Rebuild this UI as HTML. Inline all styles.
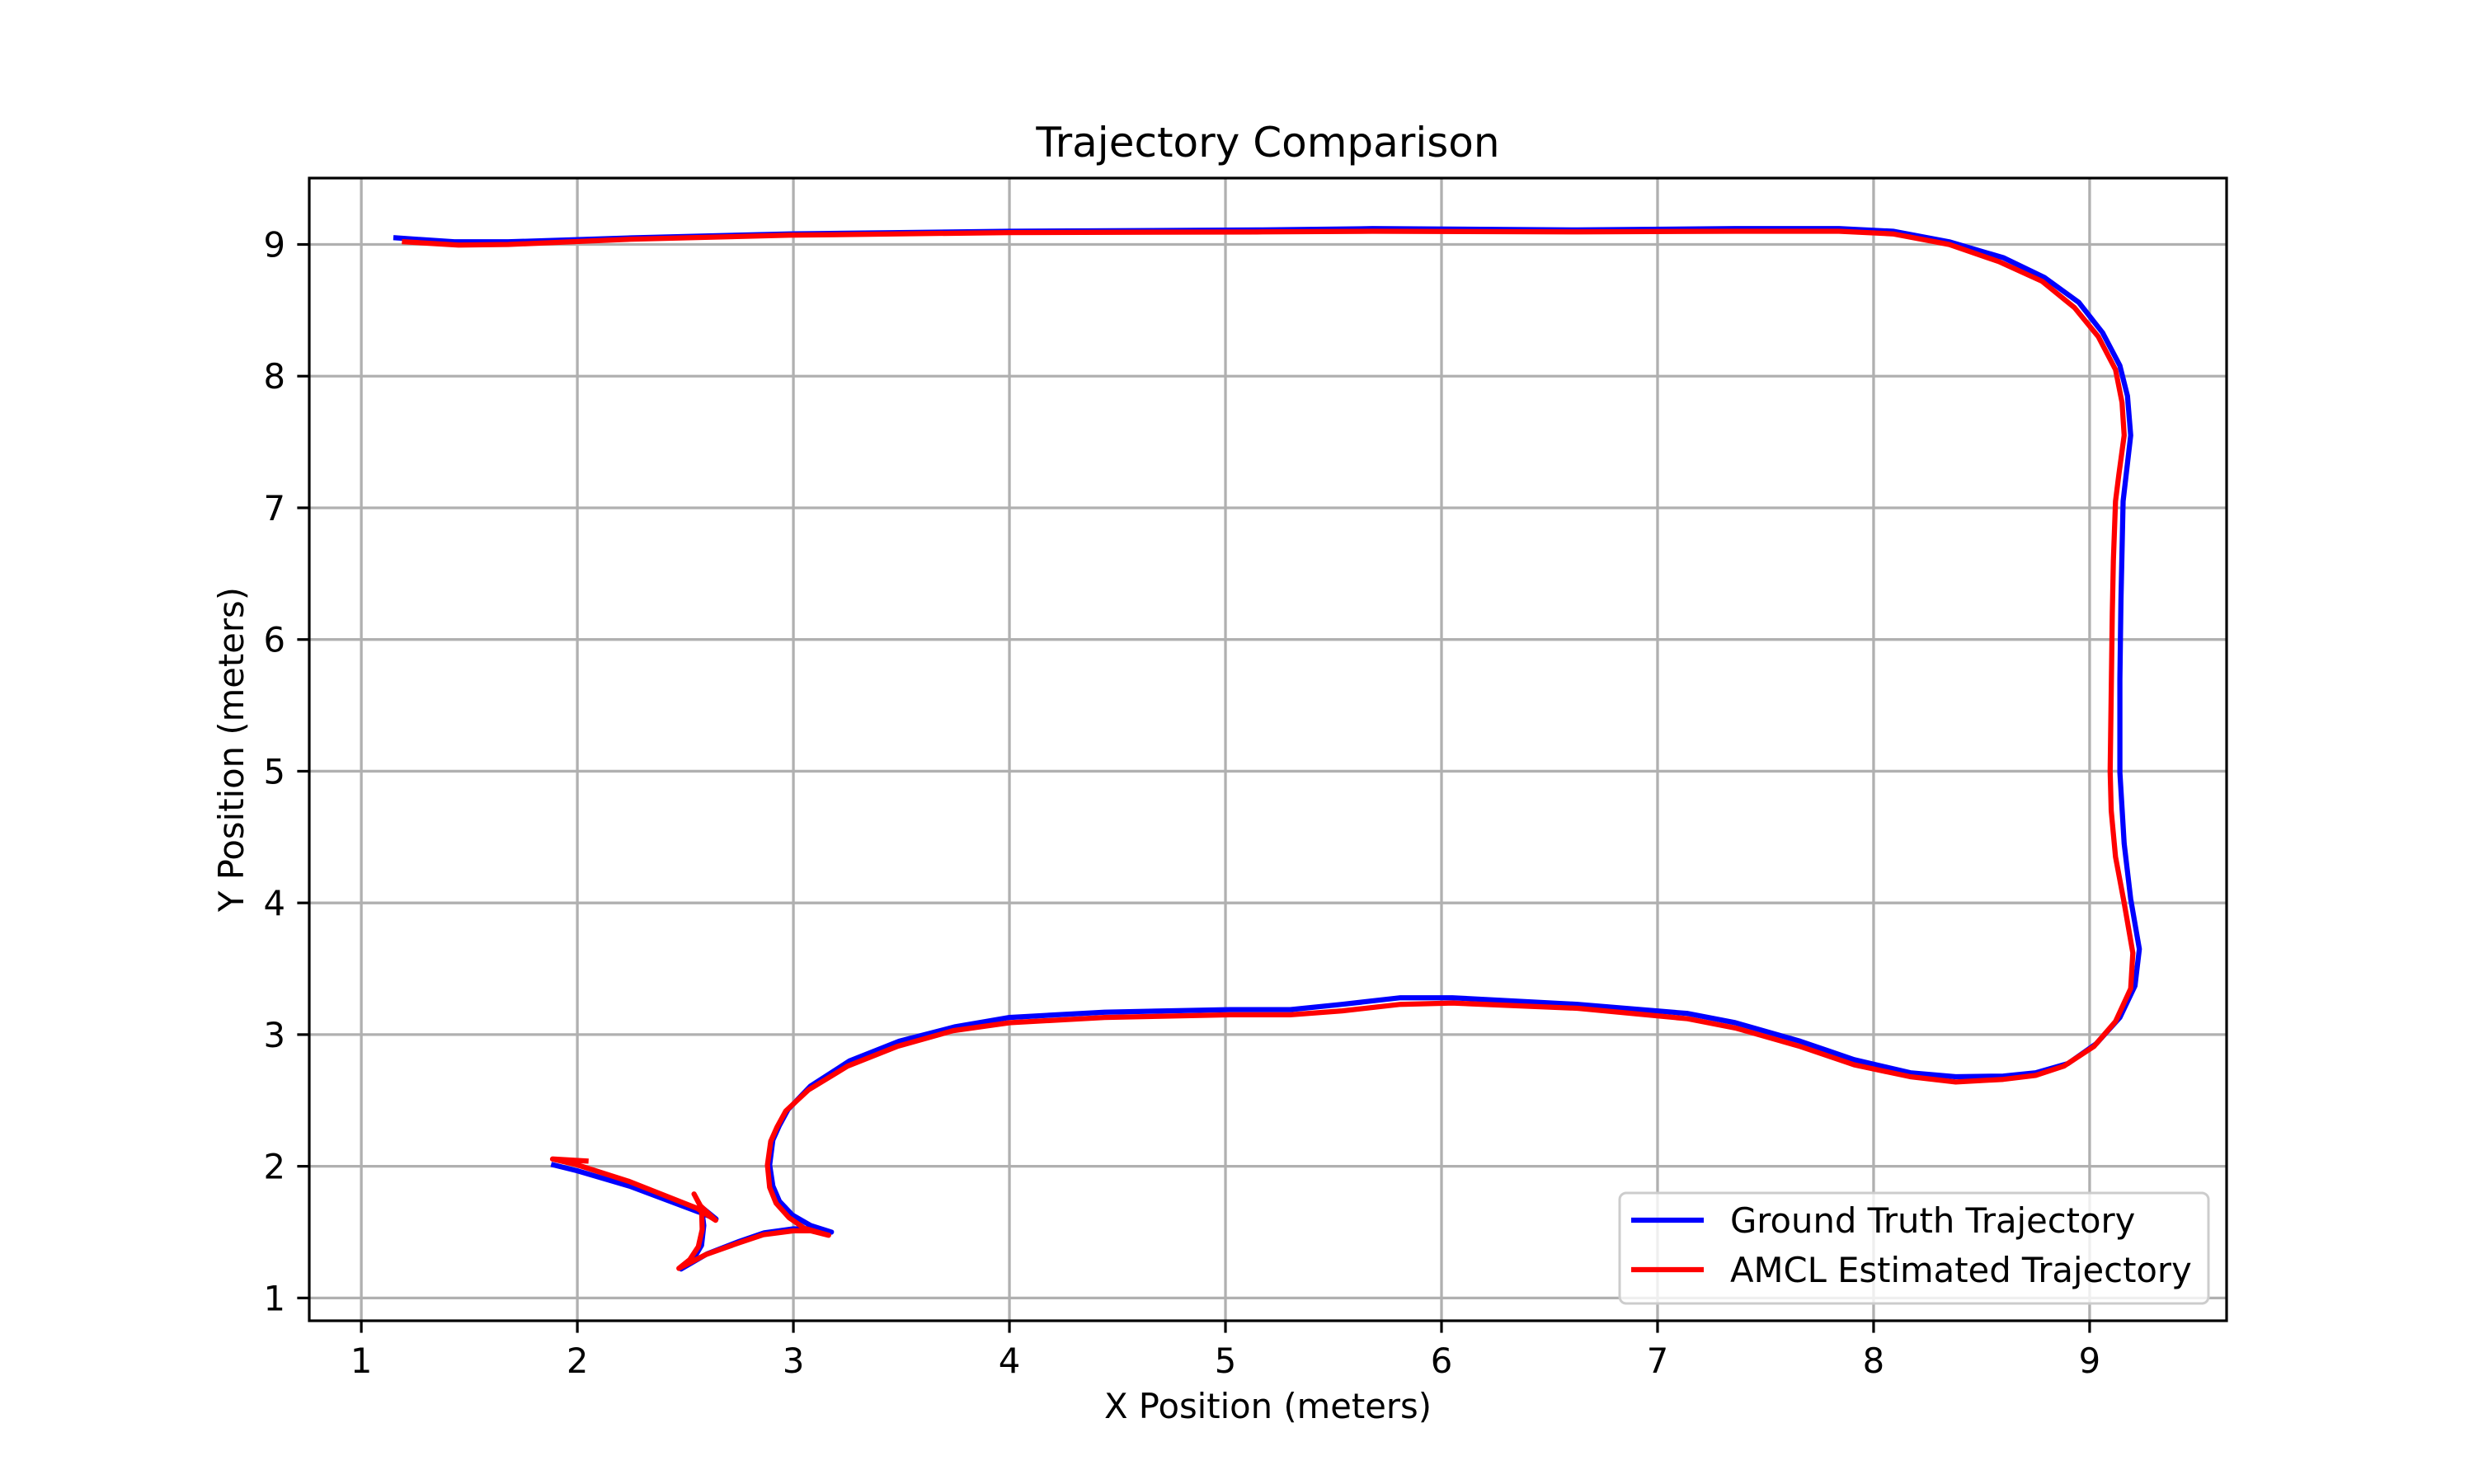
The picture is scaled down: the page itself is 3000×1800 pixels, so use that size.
<!DOCTYPE html>
<html><head><meta charset="utf-8">
<style>
html,body{margin:0;padding:0;background:#fff;}
svg{display:block;font-family:"DejaVu Sans","Liberation Sans",sans-serif;}
</style></head>
<body>
<svg id="chart" width="3000" height="1800" viewBox="0 0 3000 1800" xmlns="http://www.w3.org/2000/svg">
<rect width="3000" height="1800" fill="#fff"/>
<g id="grid"></g>
<g id="series"></g>
<rect x="375" y="216" width="2325" height="1386" fill="none" stroke="#000" stroke-width="3.2"/>
<g id="ticks"></g>
<text x="1537.5" y="190" font-size="50" text-anchor="middle">Trajectory Comparison</text>
<text x="1537.5" y="1720" font-size="41.7" text-anchor="middle">X Position (meters)</text>
<text x="0" y="0" font-size="41.7" text-anchor="middle" transform="translate(295,909) rotate(-90)">Y Position (meters)</text>
<g>
<rect x="1964" y="1447" width="714" height="134" rx="8" fill="#fff" fill-opacity="0.8" stroke="#ccc" stroke-width="3"/>
<line x1="1978" y1="1480" x2="2066" y2="1480" stroke="#0000ff" stroke-width="6.25"/>
<text x="2098" y="1495" font-size="41.7">Ground Truth Trajectory</text>
<line x1="1978" y1="1540" x2="2066" y2="1540" stroke="#ff0000" stroke-width="6.25"/>
<text x="2098" y="1555" font-size="41.7">AMCL Estimated Trajectory</text>
</g>
</svg>
<script>
const xTicks = [1,2,3,4,5,6,7,8,9];
const yTicks = [1,2,3,4,5,6,7,8,9];
const gtX = [1.89,2.0,2.24,2.56,2.642,2.575,2.585,2.575,2.535,2.48,2.60,2.75,2.865,3.0,3.08,3.176,3.08,2.995,2.935,2.905,2.89,2.905,2.935,2.975,3.08,3.26,3.49,3.75,4.0,4.44,5.02,5.3,5.54,5.81,6.05,6.63,7.14,7.36,7.66,7.91,8.17,8.38,8.6,8.75,8.9,9.03,9.14,9.21,9.23,9.19,9.16,9.14,9.14,9.145,9.155,9.19,9.175,9.14,9.06,8.95,8.79,8.6,8.35,8.09,7.84,7.36,6.63,5.68,5.17,4.0,2.98,2.25,1.68,1.43,1.16];
const gtY = [2.01,1.966,1.85,1.654,1.60,1.69,1.55,1.40,1.29,1.22,1.335,1.43,1.495,1.525,1.525,1.50,1.55,1.63,1.735,1.85,2.01,2.2,2.31,2.43,2.61,2.8,2.95,3.06,3.13,3.17,3.19,3.19,3.23,3.28,3.28,3.23,3.16,3.09,2.95,2.81,2.71,2.68,2.685,2.71,2.78,2.93,3.13,3.37,3.65,4.03,4.45,4.99,5.7,6.3,7.05,7.55,7.85,8.08,8.33,8.56,8.75,8.9,9.02,9.1,9.12,9.12,9.11,9.12,9.11,9.1,9.08,9.05,9.02,9.02,9.05];
const amclX = [2.04,1.885,2.0,2.24,2.555,2.64,2.57,2.54,2.575,2.578,2.56,2.52,2.47,2.595,2.75,2.86,3.0,3.08,3.163,3.05,2.98,2.92,2.89,2.88,2.895,2.925,2.965,3.07,3.25,3.48,3.74,4.0,4.44,5.02,5.3,5.54,5.81,6.05,6.63,7.14,7.36,7.66,7.91,8.17,8.38,8.6,8.75,8.88,9.02,9.12,9.19,9.20,9.16,9.12,9.10,9.095,9.10,9.105,9.11,9.12,9.135,9.16,9.15,9.12,9.04,8.93,8.78,8.58,8.35,8.09,7.84,7.36,6.63,5.68,5.17,4.0,2.98,2.25,1.68,1.45,1.2];
const amclY = [2.04,2.055,2.01,1.885,1.68,1.59,1.70,1.79,1.68,1.52,1.39,1.29,1.225,1.33,1.42,1.48,1.51,1.51,1.476,1.53,1.61,1.72,1.84,2.01,2.19,2.3,2.42,2.58,2.76,2.91,3.03,3.09,3.13,3.15,3.15,3.18,3.23,3.24,3.2,3.12,3.05,2.91,2.77,2.68,2.64,2.66,2.69,2.76,2.91,3.10,3.35,3.62,4.0,4.35,4.7,5.0,5.6,6.2,6.6,7.05,7.25,7.55,7.8,8.05,8.3,8.52,8.72,8.87,9.0,9.08,9.1,9.1,9.095,9.1,9.095,9.09,9.07,9.04,9.0,8.995,9.02];

const X0=375,X1=2700,Y0=216,Y1=1602;
const xMin=0.759,xMax=9.634,yMin=0.827,yMax=9.504;
function sx(v){return X0+(v-xMin)/(xMax-xMin)*(X1-X0);}
function sy(v){return Y1-(v-yMin)/(yMax-yMin)*(Y1-Y0);}
const NS='http://www.w3.org/2000/svg';
const grid=document.getElementById('grid'),ticks=document.getElementById('ticks'),series=document.getElementById('series');
function mk(tag,attrs,parent){const e=document.createElementNS(NS,tag);for(const k in attrs)e.setAttribute(k,attrs[k]);parent.appendChild(e);return e;}
xTicks.forEach(t=>{
  const x=sx(t);
  const g=mk('line',{x1:x,x2:x,y1:Y0,y2:Y1,stroke:'#b0b0b0','stroke-width':3.3},grid);
  
  
  const tk=mk('line',{x1:x,x2:x,y1:Y1,y2:Y1+14.6,stroke:'#000','stroke-width':3.2},ticks);
  
  
  const tl=mk('text',{x:x,y:Y1+63,'font-size':41.7,'text-anchor':'middle'},ticks);
  tl.textContent=String(t);
  
  
});
yTicks.forEach(t=>{
  const y=sy(t);
  const g=mk('line',{x1:X0,x2:X1,y1:y,y2:y,stroke:'#b0b0b0','stroke-width':3.3},grid);
  
  
  const tk=mk('line',{x1:X0-14.6,x2:X0,y1:y,y2:y,stroke:'#000','stroke-width':3.2},ticks);
  
  
  const tl=mk('text',{x:X0-29,y:y+15,'font-size':41.7,'text-anchor':'end'},ticks);
  tl.textContent=String(t);
  
  
});
function pts(xs,ys){return xs.map((v,i)=>sx(v).toFixed(1)+','+sy(ys[i]).toFixed(1)).join(' ');}
const gt=mk('polyline',{points:pts(gtX,gtY),fill:'none',stroke:'#0000ff','stroke-width':6.25,'stroke-linejoin':'round','stroke-linecap':'square'},series);


const am=mk('polyline',{points:pts(amclX,amclY),fill:'none',stroke:'#ff0000','stroke-width':6.25,'stroke-linejoin':'round','stroke-linecap':'square'},series);


</script>
</body></html>
